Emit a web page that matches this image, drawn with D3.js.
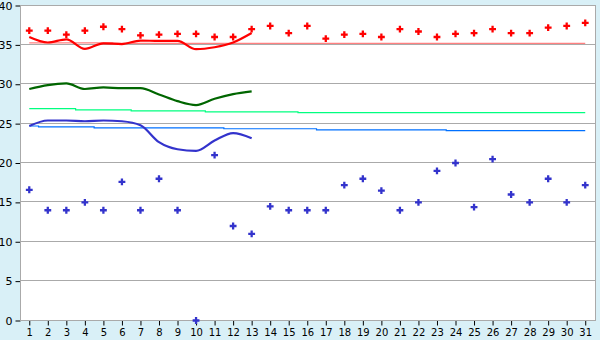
<!DOCTYPE html>
<html>
<head>
  <meta charset="utf-8">
  <style>
    body { margin: 0; background: #d9f0f7; }
    svg { display: block; }
    .tick text { font-family: "DejaVu Sans", sans-serif; font-size: 10px; fill: #000; }
    .axis--y .tick text { font-size: 11px; }
  </style>
</head>
<body>
  <svg id="chart" width="600" height="340"></svg>
  <script src="https://cdn.jsdelivr.net/npm/d3@7/dist/d3.min.js"></script>
  <script>
    // days of the month
    var days = d3.range(1, 32);
    var yTicks = [0, 5, 10, 15, 20, 25, 30, 35, 40];

    // daily maximum / minimum (points)
    var maxTemp = [36.8, 36.8, 36.3, 36.8, 37.3, 37.0, 36.2, 36.3, 36.4, 36.4, 36.0, 36.0, 37.0, 37.4, 36.5,
                   37.4, 35.8, 36.3, 36.4, 36.0, 37.0, 36.7, 36.0, 36.4, 36.5, 37.0, 36.5, 36.5, 37.2, 37.4, 37.8];
    var minTemp = [16.6, 14, 14, 15, 14, 17.6, 14, 18.0, 14, 0, 21.0, 12.0, 11.0, 14.5, 14,
                   14, 14, 17.2, 18.0, 16.5, 14, 15, 19.0, 20.0, 14.4, 20.5, 16.0, 15, 18.0, 15, 17.2];

    // running curves (first 13 days only)
    var maxCurve = [36.0, 35.3, 35.7, 34.5, 35.2, 35.1, 35.55, 35.5, 35.5, 34.45, 34.7, 35.3, 36.5];
    var meanCurve = [29.4, 29.9, 30.1, 29.4, 29.6, 29.5, 29.5, 28.7, 27.85, 27.35, 28.15, 28.75, 29.1];
    var minCurve = [24.7, 25.4, 25.4, 25.3, 25.4, 25.3, 24.8, 22.65, 21.75, 21.55, 22.85, 23.8, 23.15];

    // normals (step lines)
    var maxNormal = [35.25, 35.25, 35.25, 35.25, 35.25, 35.2, 35.2, 35.2, 35.2, 35.2, 35.2, 35.2, 35.2, 35.2, 35.2,
                     35.2, 35.2, 35.2, 35.2, 35.2, 35.2, 35.2, 35.2, 35.2, 35.2, 35.2, 35.2, 35.2, 35.2, 35.2, 35.2];
    var meanNormal = [26.9, 26.9, 26.9, 26.75, 26.75, 26.75, 26.63, 26.63, 26.63, 26.63, 26.5, 26.5, 26.5, 26.5, 26.5,
                      26.4, 26.4, 26.4, 26.4, 26.4, 26.4, 26.4, 26.4, 26.4, 26.4, 26.4, 26.4, 26.4, 26.4, 26.4, 26.4];
    var minNormal = [24.7, 24.6, 24.6, 24.6, 24.45, 24.45, 24.45, 24.45, 24.45, 24.45, 24.45, 24.35, 24.35, 24.35, 24.35,
                     24.35, 24.2, 24.2, 24.2, 24.2, 24.2, 24.2, 24.2, 24.1, 24.1, 24.1, 24.1, 24.1, 24.1, 24.1, 24.1];

    var svg = d3.select("#chart"),
      plotLeft = 20.5, plotRight = 595.5, plotTop = 5.5, plotBottom = 320.5;

    var x = d3.scaleLinear().domain([0.5, 31.5]).range([20, 594.5]);
    var y = d3.scaleLinear().domain([0, 40]).range([320.5, 5.5]);

    // plot background
    svg.append("rect")
      .attr("x", plotLeft).attr("y", plotTop)
      .attr("width", plotRight - plotLeft).attr("height", plotBottom - plotTop)
      .attr("fill", "#fff");

    // grid
    svg.append("g").selectAll("line")
      .data(yTicks.slice(1, -1))
      .enter().append("line")
      .attr("x1", plotLeft).attr("x2", plotRight)
      .attr("y1", function (d) { return Math.round(y(d)) - 0.5; })
      .attr("y2", function (d) { return Math.round(y(d)) - 0.5; })
      .attr("stroke", "#aaa");

    // axes
    var xAxis = svg.append("g")
      .attr("class", "axis axis--x")
      .attr("transform", "translate(0," + plotBottom + ")")
      .call(d3.axisBottom(x).tickValues(days).tickSize(5).tickSizeOuter(0).tickPadding(3));
    xAxis.select(".domain").remove();
    xAxis.selectAll(".tick line").attr("stroke", "#000");

    var yAxis = svg.append("g")
      .attr("class", "axis axis--y")
      .attr("transform", "translate(" + plotLeft + ",0)")
      .call(d3.axisLeft(y).tickValues(yTicks).tickSize(5).tickSizeOuter(0).tickPadding(3));
    yAxis.select(".domain").remove();
    yAxis.selectAll(".tick line").attr("stroke", "#000");

    // frame
    svg.append("rect")
      .attr("x", plotLeft).attr("y", plotTop)
      .attr("width", plotRight - plotLeft).attr("height", plotBottom - plotTop)
      .attr("fill", "none").attr("stroke", "#aaa");

    // normals
    var step = d3.line()
      .curve(d3.curveStep)
      .x(function (d, i) { return x(days[i]); })
      .y(function (d) { return y(d); });

    [[maxNormal, "#ff8080"], [meanNormal, "#00ff80"], [minNormal, "#0070ff"]].forEach(function (s) {
      svg.append("path")
        .attr("d", step(s[0]))
        .attr("fill", "none")
        .attr("stroke", s[1])
        .attr("stroke-width", 1.2);
    });

    // curves
    var curve = d3.line()
      .curve(d3.curveMonotoneX)
      .x(function (d, i) { return x(days[i]); })
      .y(function (d) { return y(d); });

    [[maxCurve, "#ff0000"], [meanCurve, "#006600"], [minCurve, "#3333cc"]].forEach(function (s) {
      svg.append("path")
        .attr("d", curve(s[0]))
        .attr("fill", "none")
        .attr("stroke", s[1])
        .attr("stroke-width", 2.2);
    });

    // points
    var cross = d3.symbol().type(d3.symbolCross).size(26);

    [[maxTemp, "#ff0000"], [minTemp, "#3333cc"]].forEach(function (s) {
      svg.append("g").selectAll("path")
        .data(s[0])
        .enter().append("path")
        .attr("d", cross)
        .attr("transform", function (d, i) { return "translate(" + x(days[i]) + "," + y(d) + ")"; })
        .attr("fill", s[1]);
    });
  </script>
</body>
</html>
